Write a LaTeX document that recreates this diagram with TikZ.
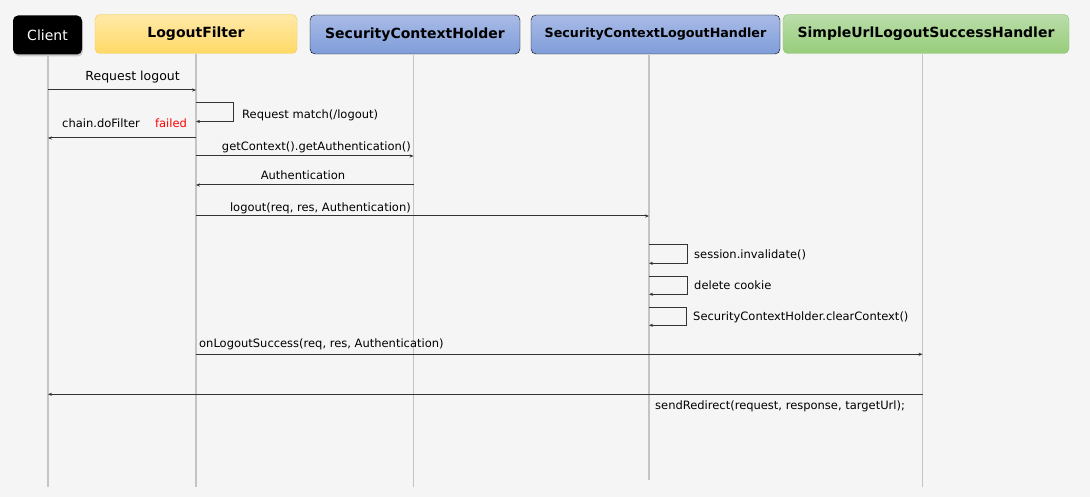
\documentclass[tikz,border=0pt]{standalone}
\usepackage{fontspec}
\setmainfont{DejaVu Sans}
\usetikzlibrary{shadows}
\usetikzlibrary{positioning}
\usetikzlibrary{arrows.meta}
\definecolor{bgcol}{HTML}{F5F5F5}
\definecolor{lifecol}{HTML}{C4C4C4}
\definecolor{msgcol}{HTML}{333333}
\definecolor{ylwtop}{HTML}{FFE9A8}
\definecolor{ylwbot}{HTML}{FFD966}
\definecolor{ylwdraw}{HTML}{F0C850}
\definecolor{blutop}{HTML}{A9BBE6}
\definecolor{blubot}{HTML}{7F9DDA}
\definecolor{grntop}{HTML}{BADDAA}
\definecolor{grnbot}{HTML}{97CD7B}
\definecolor{grndraw}{HTML}{8DC172}

\begin{document}
\begin{tikzpicture}[x=1pt,y=-1pt]
\fill [bgcol] (0,0) rectangle (1090,497);
\useasboundingbox (0,0) rectangle (1090,497);

\begin{scope}[every node/.style={rounded corners=5pt,minimum height=39pt,inner sep=0pt,font=\fontsize{14}{16}\selectfont\bfseries}]
    \node [fill=black,text=white,minimum width=69pt,font=\fontsize{14}{16}\selectfont,
           drop shadow={opacity=0.35,shadow xshift=1pt,shadow yshift=-2pt}] (Client) at (47.5,35) {Client};
    \node [top color=ylwtop,bottom color=ylwbot,draw=ylwdraw,minimum width=202pt] (LF) at (196,34) {LogoutFilter};
    \node [top color=blutop,bottom color=blubot,draw=black,minimum width=210pt] (SCH) at (415,34.5) {SecurityContextHolder};
    \node [top color=blutop,bottom color=blubot,draw=black,minimum width=249pt,
           font=\fontsize{12.7}{15}\selectfont\bfseries] (SCLH) at (655.5,34.5) {SecurityContextLogoutHandler};
    \node [top color=grntop,bottom color=grnbot,draw=grndraw,minimum width=286pt] (SULSH) at (926,34) {SimpleUrlLogoutSuccessHandler};
\end{scope}

% lifelines
\coordinate (clTop) at (48,55);      \coordinate (clEnd) at (48,487);
\coordinate (lfTop) at (196,54);     \coordinate (lfEnd) at (196,487);
\coordinate (schTop) at (413.6,55);  \coordinate (schEnd) at (413.6,487);
\coordinate (sclhTop) at (649,55);   \coordinate (sclhEnd) at (649,480);
\coordinate (sulTop) at (922.5,54);  \coordinate (sulEnd) at (922.5,487);
\begin{scope}[every path/.style={draw=lifecol,line width=1.3pt}]
    \draw (clTop) -- (clEnd);
    \draw (lfTop) -- (lfEnd);
    \draw (schTop) -- (schEnd);
    \draw (sclhTop) -- (sclhEnd);
    \draw (sulTop) -- (sulEnd);
\end{scope}

% message ends
\coordinate (rqA) at (48,90);     \coordinate (rqB) at (196,90);
\coordinate (rmA) at (196,103);   \coordinate (rmC) at (233,121.5);  \coordinate (rmD) at (196,121.5);
\coordinate (cfA) at (196,138);   \coordinate (cfB) at (48,138);
\coordinate (gcA) at (196,156);   \coordinate (gcB) at (413.6,156);
\coordinate (auA) at (413.6,185); \coordinate (auB) at (196,185);
\coordinate (loA) at (196,216);   \coordinate (loB) at (649,216);
\coordinate (siA) at (649,245);   \coordinate (siC) at (687.7,263.3); \coordinate (siD) at (649,263.3);
\coordinate (dcA) at (649,276.3); \coordinate (dcC) at (687.7,294.3); \coordinate (dcD) at (649,294.3);
\coordinate (ccA) at (649,307.3); \coordinate (ccC) at (686.7,325.3); \coordinate (ccD) at (649,325.3);
\coordinate (osA) at (196,354.3); \coordinate (osB) at (922.5,354.3);
\coordinate (srA) at (922.5,394.3); \coordinate (srB) at (48,394.3);

\begin{scope}[>={Stealth[length=4pt,width=3.2pt]},
              every node/.style={font=\fontsize{11.5}{13}\selectfont,inner sep=0pt}]
     \draw [color=msgcol,->,line width=1] (rqA) -- (rqB);
     \draw [color=msgcol,->,line width=1] (rmA) -| (rmC) -- (rmD);
     \draw [color=msgcol,->,line width=1] (cfA) -- (cfB);
     \draw [color=msgcol,->,line width=1] (gcA) -- (gcB);
     \draw [color=msgcol,->,line width=1] (auA) -- (auB);
     \draw [color=msgcol,->,line width=1] (loA) -- (loB);
     \draw [color=msgcol,->,line width=1] (siA) -| (siC) -- (siD);
     \draw [color=msgcol,->,line width=1] (dcA) -| (dcC) -- (dcD);
     \draw [color=msgcol,->,line width=1] (ccA) -| (ccC) -- (ccD);
     \draw [color=msgcol,->,line width=1] (osA) -- (osB);
     \draw [color=msgcol,->,line width=1] (srA) -- (srB);

     \node [font=\fontsize{12.5}{15}\selectfont] (rqLbl) at (132.6,77.5) {Request logout};
     \node [anchor=west] (rmLbl) at (242,115) {Request match(/logout)};
     \node (cfLbl) at (101,123) {chain.doFilter};
     \node [text=red] (failLbl) at (171,123) {failed};
     \node [anchor=east] (gcLbl) at (411,147) {getContext().getAuthentication()};
     \node (auLbl) at (303,175) {Authentication};
     \node [anchor=east] (loLbl) at (411,208) {logout(req, res, Authentication)};
     \node [anchor=west] (siLbl) at (694,255) {session.invalidate()};
     \node [anchor=west] (dcLbl) at (694,285.7) {delete cookie};
     \node [anchor=west] (ccLbl) at (693,317.3) {SecurityContextHolder.clearContext()};
     \node [anchor=west] (osLbl) at (199,344) {onLogoutSuccess(req, res, Authentication)};
     \node [anchor=west] (srLbl) at (655,406) {sendRedirect(request, response, targetUrl);};
\end{scope}
\end{tikzpicture}
\end{document}
